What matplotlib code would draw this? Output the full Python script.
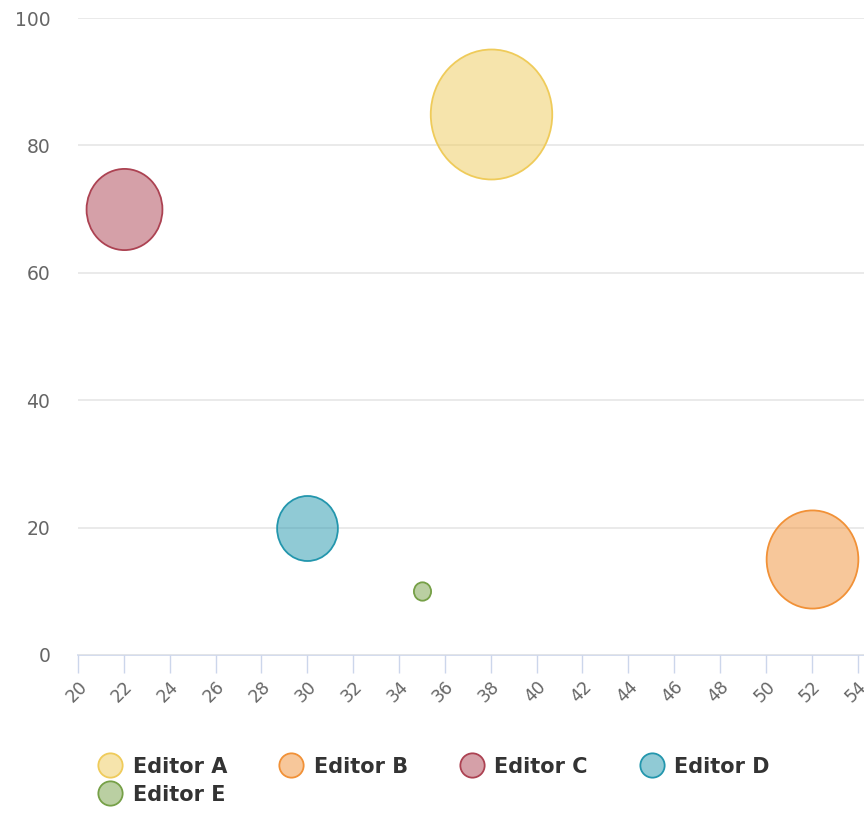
import matplotlib
matplotlib.use('Agg')
import matplotlib.pyplot as plt
from matplotlib.path import Path
from matplotlib.transforms import Affine2D
from matplotlib.lines import Line2D
from matplotlib.colors import to_rgba

# bubble data
names = ['Editor A', 'Editor B', 'Editor C', 'Editor D', 'Editor E']
x_vals = [38, 52, 22, 30, 35]
y_vals = [85, 15, 70, 20, 10]
z_vals = [100, 57, 39, 25, 2]
colors = ['#efcb5a', '#f19137', '#ac4252', '#2396ad', '#76a047']

x_ticks = list(range(20, 55, 2))
y_ticks = [0, 20, 40, 60, 80, 100]

plt.rcParams['font.family'] = ['DejaVu Sans']

fig = plt.figure(figsize=(8.64, 8.14), dpi=100)
ax = fig.add_axes([78 / 864, 1 - 655 / 814, 786 / 864, 637 / 814])

# highcharts bubbles come out a bit taller than wide in the screenshot
bubble = Path.unit_circle().transformed(Affine2D().scale(1, 1.07))
for x, y, z, c in zip(x_vals, y_vals, z_vals, colors):
    ax.scatter(x, y, s=z * 87.6, marker=bubble, facecolor=to_rgba(c, 0.5),
               edgecolor=c, linewidth=1.3, zorder=3, clip_on=False)

ax.set_xlim(20, 54.28)
ax.set_ylim(0, 100)
ax.set_xticks(x_ticks)
ax.set_yticks(y_ticks)
ax.set_xticklabels([str(t) for t in x_ticks], rotation=45, ha='right',
                   va='top', rotation_mode='anchor')

ax.grid(axis='y', color='#e6e6e6', linewidth=1.2)
ax.set_axisbelow(True)
for side in ['top', 'right', 'left']:
    ax.spines[side].set_visible(False)
ax.spines['bottom'].set_color('#ccd6eb')
ax.spines['bottom'].set_linewidth(1.2)
ax.spines['bottom'].set_zorder(0)

ax.tick_params(axis='y', length=0, pad=20, labelsize=13.5, labelcolor='#666666')
ax.tick_params(axis='x', length=13, width=1, color='#ccd6eb', pad=3,
               labelsize=12.5, labelcolor='#666666')

# legend: A, E in first column so that E lands on the second row
handles = []
for c in colors:
    handles.append(Line2D([], [], marker='o', linestyle='', markersize=17.5,
                          markerfacecolor=to_rgba(c, 0.5), markeredgecolor=c,
                          markeredgewidth=1.3))
order = [0, 4, 1, 2, 3]
leg = fig.legend([handles[i] for i in order], [names[i] for i in order],
                 loc='upper left', bbox_to_anchor=(81 / 864, 1 - 738 / 814),
                 ncol=4, frameon=False, handlelength=1.0, handletextpad=0.6,
                 columnspacing=2.55, labelspacing=0.38,
                 prop={'weight': 'bold', 'size': 15})
for t in leg.get_texts():
    t.set_color('#333333')

plt.savefig('out.png', dpi=100)
